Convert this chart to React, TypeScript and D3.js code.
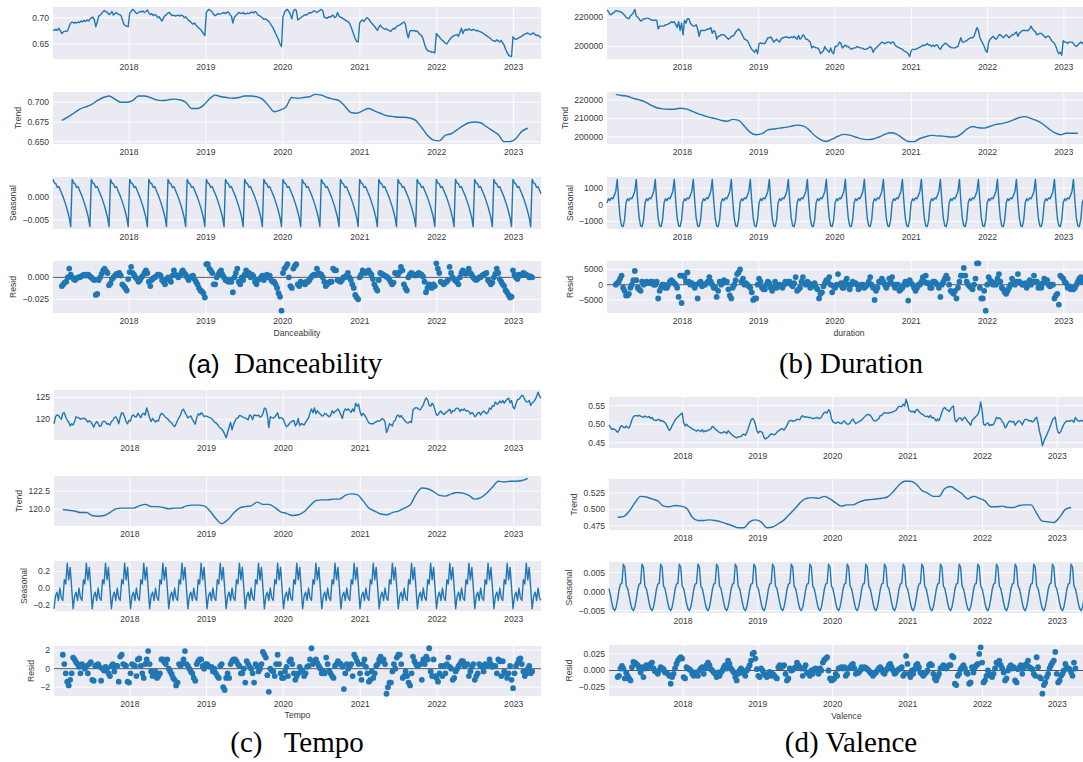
import React from "react";
import * as d3 from "d3";

// ---------------- data (weekly series) ----------------
const START = new Date(2017, 0, 5);
const PERIOD = 13; // seasonal period (weeks)
const TREND_START = 6; // first week with a trend value
const TREND_STEP = 4; // trend values below are every 4th week
const RESID_START = 6;
const YEAR_TICKS = ["2018", "2019", "2020", "2021", "2022", "2023"];

// Danceability (units 0.001; seasonal units 0.0001)
const DANCE_OBS = [
  677,676,678,676,680,675,670,673,674,674, 676,684,690,692,690,691,690,692,691,694,
  692,695,693,696,694,697,700,701,697,683, 692,703,705,708,712,714,711,710,706,708,
  712,705,708,710,707,706,705,697,688,685, 684,683,708,712,716,714,710,708,710,712,
  711,713,710,712,715,709,706,708,704,706, 705,700,702,697,694,700,704,706,709,710,
  706,704,705,703,704,705,703,705,704,700, 702,698,695,693,690,688,690,686,683,680,
  678,674,670,666,710,714,716,713,711,706, 704,706,708,707,708,709,710,708,710,711,
  706,703,690,701,704,707,710,709,708,710, 707,708,709,708,710,711,709,712,710,705,
  704,702,700,697,698,696,694,691,686,682, 676,670,664,658,650,645,702,710,714,716,
  712,706,698,712,716,714,696,698,700,702, 704,706,705,708,710,709,711,713,712,710,
  712,714,716,713,701,700,699,702,701,703, 705,700,702,710,703,701,700,698,696,694,
  693,690,684,676,668,660,655,654,690,694, 696,693,697,700,698,694,690,687,684,680,
  676,682,686,682,680,678,679,677,676,674, 677,680,679,683,685,686,688,690,692,688,
  672,662,674,676,675,676,674,675,671,668, 666,660,650,642,638,636,636,634,635,633,
  670,666,664,660,657,655,652,650,654,658, 662,664,666,667,668,665,672,680,670,676,
  678,676,679,677,676,678,677,675,676,674, 673,672,670,668,666,664,662,660,657,656,
  655,658,656,654,657,652,648,640,634,629, 627,626,664,660,659,660,662,663,665,667,
  669,670,671,669,668,670,671,668,666,667, 664,662,
];
const DANCE_TREND = [
  677,681,686,691,694,697,702,706,708,704, 700,700,702,708,708,706,703,702,703,704,
  703,700,692,692,696,704,709,707,706,705, 706,708,708,707,704,696,688,690,694,706,
  705,706,707,710,709,706,704,702,695,687, 686,689,692,689,686,683,682,681,681,680,
  677,668,658,652,651,658,660,665,670,674, 675,674,669,664,659,650,650,654,663,667,
];
const DANCE_SEAS = [40,32,30,22,24,16,8,0,-10,-20,-32,-45,-65];
const DANCE_RESID = [
  -10,-8,-6,-5,0,10,3,0,-2,-3, -1,0,0,1,2,3,2,3,3,1, 0,-2,-3,-20,-19,-3,0,4,8,10,
  7,5,-9,-7,-2,0,2,4,3,5, 2,-8,-10,-12,-15,-2,6,12,5,3, 0,-2,-5,-3,0,2,5,8,5,-5,
  -10,-3,-1,0,1,3,3,2,-3,-5, -8,-2,0,-3,-5,2,8,3,2,0, 2,5,8,5,3,0,-3,0,1,2,
  -2,-5,-8,-12,-15,-16,-18,-23,15,15, 10,8,5,-8,-8,0,3,6,8,3, 0,-3,-4,-5,-3,-5,-17,0,5,10,
  -5,-8,0,-3,3,8,3,5,0,3, 1,-5,-8,-3,-2,0,2,-3,0,3, 0,2,-3,-5,-5,-8,-12,-18,-22,-38,
  5,10,12,15,0,-10,-12,10,13,15, -8,-10,-5,-6,-7,-8,-5,-5,-3,0, 2,3,3,10,5,4,3,0,-5,-10,
  -8,-6,-5,-5,10,8,8,-3,-4,-5, -3,0,0,2,5,0,-3,-8,-12,-20,-23,-25,
  0,3,8,6,5,6,8,5,3,-2, -8,-12,-15,-3,5,4,3,2,1,0, -2,-5,-8,-6,5,4,3,6,12,8,
  -8,-12,-15,0,3,5,4,3,2,3, 5,4,3,1,-5,-17,-12,-8,-10,-12,-8,-10,
  16,10,5,-5,-6,-8,-6,-5,-3,12, 5,0,-2,-4,-5,-8,0,5,8,5, 4,5,10,5,3,0,-2,-3,-2,0,
  0,2,3,4,5,-3,-5,-8,-6,0, 4,10,5,-2,-5,-8,-10,-15,-17,-20,-23,-22,
  8,3,0,-2,3,2,3,5,4,3,2,0,1,0,
];

// Duration (units 1000 ms; seasonal units 1)
const DUR_OBS = [
  225,224,222,222,223,223.5,224.5,224.5,224,224, 223.5,222.5,221.5,220,219.5,219,221,222,223,225.5,
  221,220,219,217.5,218,219,219,219.5,219.5,219, 218.5,218,218,218,218,212,214,214,214,214,
  215,215,215.5,216,217,216.5,217,215,213,217, 211,216,208,218,216,219,219,216,215,214,
  214,215,212,207,211,211,211,211,211.5,212, 212,213,209,211,210,205,207,207,208,208,
  208,207,206,205,205.5,207,207,208,210,211, 212,211,209,207,205,204.5,204,202,200,198,
  197,196,198,195,202,202.5,202,202,202,204, 206,206,206.5,205,203,204,205,204,203,205,
  206,206,206.5,206.5,206,206,206.5,206,207,206, 205,207.5,205,206,208,207,205,205,204,203,
  199,200,199.5,199,199,198,195,196,197,200, 198,197,196,199,196,195,200,200,201,203,
  202,199,200,201,200,200,199,198,198.5,199, 199,200,199.5,199,199,198.5,198,198,198.5,199,
  200,199,196,198,199,200,201,202,203,202.5, 202,202.5,203,203,202,203,203,201,200,199.5,
  199,198.5,198,197,196.5,196,195,193,197,198, 198,198,198.5,199,199.5,200,201,200.5,201,202,
  201,201,200,201,200,201,201,199,198,200, 201,202,202,201,200,199.5,199,199,199,199.5,
  200,203,206,203,203,203.5,204,205,205.5,206, 206,207,210,213,211,206,204,202,200,197,
  196,203,205,206,207,206,205,206,208,208, 207,206,207,208,207,206,207,208,208,209,
  210,207,209,210,211,211,211,211,211,212, 214,212,211,210,208,208.5,209,209,208,207,
  206,207,207,206,204,203,202,200,197,195, 196,194,204,203,203,202,203,203,203,202,
  200.5,200,201,202,203,202,203,203,202,203, 202,203,
];
const DUR_TREND = [
  223,222.4,222,220.8,220,219,217.2,215.8,215.2,215, 215,215.5,215.2,214,212.6,211.6,210.6,209.9,209,208.5,
  209.5,209,205.8,202.5,201.2,201.8,203.8,204.3,204.8,205.2, 205.8,206.4,206,204,200.8,198.6,197.6,198.8,200.4,201.4,
  201,200,199,198.6,198.9,200,201.4,202.3,201.6,199.4, 197.6,197.5,199.2,200.2,200.9,200.6,200.5,200,200,201.4,
  204.2,205.7,205,204.8,205.8,206.8,207.2,208,209.2,210.5, 211,210,208.8,207,204.5,202.4,201.2,202,202,202,
];
const DUR_SEAS = [100,350,250,400,350,550,800,1500,200,-800,-1250,-1300,-900];
const DUR_RESID = [
  0,0.5,1,2,3,-1,-2,-3.5,-3.5,-3, -1,0,1.5,4.5,1.5,-1,-1.5,-2,1,0, 0.5,1,0.5,0.5,1,1,0,0,1,-4.5,
  -2,-1,0,0,-1,-1,0,1,1.5,1, 0.5,0,-1,-4,3,-6,3,2.5,1,4, 1,0,0.5,0,-1,0,-4.5,0.5,1,-0.5,
  0,0,0.5,1,2.5,1,0,-1,-1,-4, -2,1,0,0.5,1.5,1,1,-1.5,-3.5,-4.5, -1,0,1.5,3.5,4,5,1,2,0,0.5,
  0,-0.5,-1,-2.5,-5,-4.5,-4.5,0,2,1, -1,-1.5,-1.5,0,1,0.5,-1,-2,-1,1, -1,-0.5,0,-0.5,-1,0,1,0.5,1,1,
  0,-0.5,0.5,2.5,-2,-1.5,-1,1,2.5,0.5, 0,1,0.5,-1,0,0,0.5,-1,-1.5,-4.5, -3,-2.5,-0.5,0.5,1.5,1,2.5,0,-2.5,-0.5,
  -1,0,3.5,0,0.5,-1,-1,1,2,0, -1.5,0,1,0.5,0.5,0,-1.5,-1,0,0, -1,-0.5,0,1,2.5,0,-1,-5,-2,-1,
  1,1,2,1,0,-1,0,2,1,2.5, 0,-1,0,0,-2,-1.5,-1,0,1,0, -5.2,1.5,0.5,0,-1,-2,-1,0,0,1,
  2.5,1,3,0.5,0.5,-1,-1,1,1,0.5, 0,-1,-4,0,1,2,3,2,0,-2, -2.5,-3,-2,-4.5,-1,1,3,3,5.5,3,
  1,0,-0.5,-1,-1.5,0,2,7,7,-1, -4.5,-4.5,-2,-8.5,0,2.5,1.5,1,0,0.5, 0,2,3.5,1,-1,-1.5,-2.5,-3,-2,-1,
  0,2,1,0,1,3.5,1,0.5,0,0, 0.5,-1,0,1.5,0,1,3,1,1,-1, 0,-1,0.5,2,1,1.5,0,-0.5,0,0,
  -4.5,-3.5,-3,-6.5,3,2.5,2,1,0.5,-1, -0.5,-1.5,-1,-1.5,-1,0,1,2,2.5,1,
];

// Tempo (units 1 BPM)
const TEMPO_OBS = [
  119.0,120.6,121.0,120.9,120.4,120.0,121.4,121.5,120.5,119.8, 119.4,118.5,119.0,118.7,119.5,120.6,120.4,120.3,120.0,120.2,
  120.2,120.2,119.8,119.4,119.7,119.4,118.9,118.2,119.0,119.5, 119.1,118.4,118.5,119.4,119.6,119.4,118.9,119.0,118.7,119.5,
  119.8,120.4,120.6,120.0,119.0,120.5,121.5,121.4,120.5,119.5, 119.0,119.8,119.6,120.8,121.0,120.6,120.6,121.4,120.9,120.4,
  121.2,121.4,121.0,122.6,121.6,120.3,119.5,120.2,119.8,119.4, 119.8,119.6,120.8,121.4,121.2,120.8,120.4,120.2,119.8,119.4,
  119.2,118.6,118.3,119.0,119.8,120.4,121.0,122.0,122.3,121.6, 121.0,120.3,120.6,120.8,120.0,119.5,118.9,120.4,121.3,121.0,
  121.5,121.2,120.6,120.8,120.7,120.5,120.4,120.2,119.9,119.4, 119.2,118.9,118.4,118.0,117.8,117.3,116.6,115.8,117.0,118.2,
  119.3,117.6,118.8,119.6,120.2,120.3,120.9,120.8,120.6,120.4, 120.3,120.1,119.9,121.0,120.8,119.9,121.0,120.9,120.8,121.0,
  120.5,120.7,121.3,122.6,122.4,121.0,118.1,120.6,120.4,120.3, 120.5,121.0,121.5,120.2,120.4,120.3,119.9,119.0,118.3,118.6,
  119.0,119.4,119.6,119.8,118.5,119.0,120.2,118.6,119.0,118.9, 118.7,119.3,119.9,120.3,121.5,122.4,121.5,122.6,121.3,122.0,
  121.5,121.2,120.8,120.8,121.4,121.2,120.9,120.6,120.9,122.0, 121.4,121.8,122.0,122.4,121.8,121.0,120.2,121.8,122.4,122.1,
  122.4,122.0,121.6,122.4,121.8,123.7,123.0,123.5,121.8,120.8, 121.4,121.0,120.5,119.8,119.2,119.0,119.0,119.0,119.3,119.4,
  119.7,119.6,119.8,120.2,120.0,119.4,117.0,117.8,119.0,118.8, 118.5,119.6,119.8,120.8,121.0,120.5,120.9,120.3,119.9,119.5,
  119.2,119.2,119.5,119.3,122.2,122.5,122.7,122.6,122.3,122.2, 122.8,123.3,124.3,124.9,124.4,123.2,123.0,123.7,123.2,122.0,
  121.0,121.0,121.6,121.9,121.4,121.1,121.5,121.7,122.0,122.3, 121.4,122.0,121.9,122.4,122.6,122.4,121.8,122.3,122.1,122.4,
  121.9,122.0,121.8,121.2,121.6,121.3,120.6,120.9,121.5,121.6, 121.0,121.6,121.9,121.6,121.3,121.6,122.6,122.3,123.1,123.0,
  124.0,123.5,123.6,124.2,123.8,124.3,123.7,124.2,124.6,124.9, 123.8,124.3,122.8,122.4,123.6,124.5,124.6,125.0,125.5,125.3,
  124.5,124.0,124.0,124.3,123.2,123.8,124.0,124.5,125.2,126.2, 125.3,124.8,
];
const TEMPO_TREND = [
  120.0,119.9,119.8,119.6,119.6,119.2,119.1,119.2,119.6,120.1, 120.2,120.2,120.2,120.5,120.7,120.4,120.4,120.3,120.1,120.2,
  120.2,120.5,120.6,120.6,120.5,119.8,118.8,118.1,118.6,119.5, 120.2,120.4,120.5,121.0,120.7,120.7,120.3,119.7,119.5,119.2,
  119.3,119.7,120.5,121.2,121.3,121.3,121.4,121.4,121.9,122.1, 122.0,121.2,120.2,119.8,119.4,119.3,119.6,119.8,120.2,120.6,
  122.0,122.9,122.8,122.4,121.9,121.8,122.1,122.3,122.2,121.9, 121.4,121.6,122.2,123.0,123.8,123.7,123.8,123.8,123.9,124.2,
];
const TEMPO_SEAS = [-0.25,-0.1,-0.05,-0.15,0.0,-0.12,-0.15,0.1,0.05,0.3,0.1,0.25,0.0];
const TEMPO_RESID = [
  1.5,0.5,-0.5,-1.4,-1.8,-1.2,-0.5,1.2,1.0,0.7, 0.5,0.2,-0.5,0.5,0.2,0,0.3,-0.5,0.5,0.7,
  -1.2,-1.3,0.3,0.4,0.5,0.2,-1.3,0,-0.2,0.2, 0,-0.5,-0.8,0.3,0.5,-0.3,0.3,0.3,-1.4,1.3,
  1.5,0.5,0.4,0.3,-1.4,-1.5,-0.5,0.5,0.4,0.3, -0.8,1.0,1.1,0.3,-0.5,-1.0,0.5,1.0,1.9,0.5,
  -0.3,-0.8,-0.5,-0.3,-1.0,-0.8,-0.5,1.0,1.0,0.7, 0.5,1.0,0,-0.3,-0.6,-1.0,-1.2,-1.8,-1.5,0.5,
  0.3,0.5,1.0,1.9,0.5,0.3,0,-0.3,-0.5,-1.0, -1.3,0.5,0.8,1.0,1.0,0.3,0,0.5,0.5,0.3,
  0.2,0.2,-0.3,0,-0.5,-0.8,-1.0,0.3,0.5,-2.0, -2.3,-1.0,-0.5,-1.0,0.5,0.8,1.0,1.0,0.8,0.5,
  0.3,-0.5,-0.5,0,-1.5,0.8,0.5,0.2,0,-0.5, -1.5,0.5,0.3,-0.3,0,0.5,1.8,1.5,1.2,-0.7,
  -2.5,0,-0.2,-0.3,-0.8,0.5,1.5,0.5,-0.5,-1.0, -1.0,-0.3,0.2,-0.8,0.8,1.0,0.5,-0.5,-1.2,-0.8,
  -0.5,0.2,-0.1,-0.3,-0.8,-0.5,0.2,0.3,1.0,2.2, 0.5,0.8,1.0,0.6,0.3,0,-0.5,-0.3,-0.5,1.2,
  0.5,-0.2,-0.5,-0.8,-1.0,0.3,0.5,0.8,0.6,0.5, 0.2,-2.2,-0.5,0.5,0,0.3,0.5,-0.8,1.5,1.2,
  0.8,0.5,-0.5,-1.2,0.5,1.0,0.2,-0.5,-1.4,-1.2, -0.3,-1.0,-0.5,0.3,0.5,1.0,1.3,0.8,1.0,0.5,
  -2.7,-2.0,-1.5,-1.5,-0.3,0.5,0,1.2,1.5,1.5, 0.5,-1.0,-0.8,-0.3,-0.8,-1.5,-1.8,-0.5,1.3,0.8,
  0.5,0.3,0.4,0.5,-1.2,1.0,0.5,1.3,1.0,2.2, -0.3,-0.8,1.0,-0.8,-1.0,-1.4,-0.5,0.3,-0.8,0.3,
  -0.5,0.5,1.2,0.2,0,-1.2,-1.0,-0.3,0,0.3, 0.5,0.8,0.8,0.3,0.4,0.5,-0.8,-0.3,0.2,0.5,
  -1.2,-0.8,-0.5,0.5,0.3,0.2,-0.3,0.5,0.3,0.4, 1.0,0.5,0.2,0.3,0.3,-0.5,1.0,0.8,-0.8,0.8,
  -0.3,-0.5,-1.0,-0.5,0.3,-1.2,-2.1,-0.5,0.3,0.6, 1.0,1.1,0.5,-0.3,-0.8,-0.5,0,0.3,-0.5,-0.3,
];

// Valence (units 0.001; seasonal units 0.0001)
const VAL_OBS = [
  498,491,486,487,486,482,478,484,493,496, 492,490,495,491,490,500,512,520,523,523,
  522,524,522,520,518,522,520,518,521,515, 518,512,511,510,512,513,508,510,507,504,
  499,490,483,487,497,503,511,515,520,523, 527,530,505,495,500,495,493,490,487,485,
  483,481,484,483,480,485,479,482,481,484, 485,487,494,492,487,484,480,478,476,477,
  479,479,475,482,478,474,470,467,465,463, 466,466,467,471,473,470,477,488,500,511,
  515,511,500,483,476,481,480,476,464,460, 463,465,470,474,473,471,473,478,482,484,
  488,487,484,490,496,506,510,510,508,509, 510,513,513,512,520,523,519,520,519,518,
  518,517,515,516,517,518,516,515,519,526, 532,532,530,539,535,515,507,504,502,505,
  505,502,502,506,509,503,500,500,503,510, 514,506,501,504,506,509,511,515,519,523,
  526,526,524,519,512,509,509,512,515,523, 523,528,531,530,530,530,531,532,534,535,
  537,543,548,548,547,554,549,567,555,538, 535,533,535,531,538,540,534,530,527,525,
  522,520,522,518,524,517,518,514,508,514, 510,520,533,542,545,540,538,534,540,546,
  549,512,506,512,517,517,510,515,519,513, 507,503,497,510,514,518,522,526,536,560,
  538,500,497,501,504,496,499,497,500,508, 519,515,517,514,507,502,490,494,503,508,
  508,505,508,497,503,508,509,504,498,508, 513,513,511,508,510,506,508,515,519,502,
  480,466,442,453,463,470,480,489,500,510, 516,519,492,477,476,482,492,500,505,509,
  508,508,510,510,505,518,512,509,508,510, 508,510,
];
const VAL_TREND = [
  488,489,497,510,520,519,516,513,505,504, 506,505,502,488,483,483,484,483,481,478,
  475,472,472,481,484,481,472,473,478,484, 493,502,512,517,518,517,520,516,510,505,
  507,507,511,514,515,516,517,519,527,537, 543,543,539,529,525,520,520,532,535,530,
  524,516,520,517,513,504,504,505,503,503, 506,507,507,494,482,481,480,488,500,503,
];
const VAL_SEAS = [8,-10,-30,-45,-50,-40,-20,5,20,22,72,65,15];
const VAL_RESID = [
  -10,-8,3,7,3,-12,-3,-8,-12,-15, 5,13,12,10,8,3,-3,5,-10,3, 8,5,6,10,12,3,-1,-2,-5,0,
  5,3,2,-3,-3,-5,-8,-20,-10,-5, 3,10,15,18,20,18,-10,-12,5,3, 2,0,-5,-8,-3,-6,-8,0,3,5,
  -5,3,8,12,8,2,0,-3,-5,-10, -3,-8,-3,0,5,8,3,15,10,3, 0,-3,-10,-15,-5,0,3,0,-5,-8,
  0,3,8,15,25,27,18,2,-8,-10, 3,0,-5,-7,-10,-5,-2,-8,-5,-7, -10,-12,5,8,5,6,8,-5,-15,-12,
  3,0,1,3,5,12,8,5,3,-8, 3,8,-3,-5,-8,0,-5,2,3,0, -5,3,0,12,16,18,20,0,-12,-15,
  -14,-12,-5,-8,3,4,5,3,5,-8, -5,3,5,8,10,3,-5,-4,-3,0, 5,3,5,4,2,0,-3,-5,-8,-5,
  -3,0,3,5,2,-3,-5,0,3,8, 10,5,0,-5,-3,0,2,3,5,-8, -5,22,10,-5,-10,0,-5,2,8,10,
  5,-3,-5,-8,-5,-3,0,8,10,8, -5,-12,-15,-10,-5,3,5,8,5,3, 6,8,8,22,20,-20,-22,-8,-5,2,
  5,8,3,-3,-5,-20,-18,5,-3,5, 8,10,25,35,12,-18,-15,-8,0,-5, -8,-10,-5,3,12,10,15,8,3,-3,
  -15,-12,0,5,8,3,5,-15,-18,2, 5,8,-5,3,8,10,15,5,3,2, -5,-8,20,5,-10,-12,-35,-22,-18,-10,
  -5,3,8,12,15,28,-5,-18,-15,-8, -5,0,10,5,3,2,-3,-8,12,3,
];

// tick labels (y) for observed, trend, seasonal, resid
const DANCE_TICKS = [["0.65", "0.70"], ["0.650", "0.675", "0.700"], ["-0.005", "0.000"], ["-0.025", "0.000"]];
const DUR_TICKS = [["200000", "220000"], ["200000", "210000", "220000"], ["-1000", "0", "1000"], ["-5000", "0", "5000"]];
const TEMPO_TICKS = [["120", "125"], ["120.0", "122.5"], ["-0.2", "0.0", "0.2"], ["-2", "0", "2"]];
const VAL_TICKS = [["0.45", "0.50", "0.55"], ["0.475", "0.500", "0.525"], ["-0.005", "0.000", "0.005"], ["-0.025", "0.000", "0.025"]];

const ROW_LABELS = ["", "Trend", "Seasonal", "Resid"];

// ---------------- layout / style ----------------
const W = 1083;
const H = 762;
const BG = "#eaeaf2";
const BLUE = "#1f77b4";
const TXT = "#3a3a3a";
const TICK_FS = 8.6;
const SANS = "'Liberation Sans', Arial, sans-serif";
const SERIF = "'Liberation Serif', 'Times New Roman', serif";

type Pt = { d: Date; v: number };
const weekDate = (i: number) => new Date(START.getFullYear(), START.getMonth(), START.getDate() + 7 * i);

function series(vals: number[], unit: number, start: number, step: number): Pt[] {
  return vals.map((v, k) => ({ d: weekDate(start + k * step), v: v * unit }));
}
function seasonal(pattern: number[], unit: number, n: number): Pt[] {
  return d3.range(n).map((i) => ({ d: weekDate(i), v: pattern[i % PERIOD] * unit }));
}

function labelWidth(s: string, fs: number) {
  let w = 0;
  for (const c of s) w += c === "." ? 0.278 : c === "\u2212" ? 0.584 : 0.556;
  return w * fs;
}
const fmt = (s: string) => s.replace("-", "\u2212");

interface PanelSpec {
  obs: number[]; obsUnit: number;
  trend: number[]; seas: number[]; seasUnit: number;
  resid: number[]; residUnit: number;
  ticks: string[][]; xlabel: string;
  capTag: string; capText: string; capX: number; capY: number; capSansTag: boolean;
  xL: number; xR: number; tops: number[]; h: number; xlabelY: number;
}

const PANELS: PanelSpec[] = [
  {
    obs: DANCE_OBS, obsUnit: 0.001, trend: DANCE_TREND, seas: DANCE_SEAS, seasUnit: 0.0001,
    resid: DANCE_RESID, residUnit: 0.001, ticks: DANCE_TICKS, xlabel: "Danceability",
    capTag: "(a)", capText: "  Danceability", capX: 285, capY: 373, capSansTag: true,
    xL: 53, xR: 541, tops: [7, 92, 177, 261], h: 52, xlabelY: 333,
  },
  {
    obs: DUR_OBS, obsUnit: 1000, trend: DUR_TREND, seas: DUR_SEAS, seasUnit: 1,
    resid: DUR_RESID, residUnit: 1000, ticks: DUR_TICKS, xlabel: "duration",
    capTag: "(b)", capText: " Duration", capX: 851, capY: 373, capSansTag: false,
    xL: 607, xR: 1091, tops: [7, 92, 177, 261], h: 52, xlabelY: 333,
  },
  {
    obs: TEMPO_OBS, obsUnit: 1, trend: TEMPO_TREND, seas: TEMPO_SEAS, seasUnit: 1,
    resid: TEMPO_RESID, residUnit: 1, ticks: TEMPO_TICKS, xlabel: "Tempo",
    capTag: "(c)", capText: "   Tempo", capX: 297, capY: 752, capSansTag: false,
    xL: 54, xR: 541, tops: [390, 476, 561, 646], h: 50, xlabelY: 715,
  },
  {
    obs: VAL_OBS, obsUnit: 0.001, trend: VAL_TREND, seas: VAL_SEAS, seasUnit: 0.0001,
    resid: VAL_RESID, residUnit: 0.001, ticks: VAL_TICKS, xlabel: "Valence",
    capTag: "(d)", capText: " Valence", capX: 851, capY: 752, capSansTag: false,
    xL: 609, xR: 1084, tops: [397, 479, 562, 645], h: 51, xlabelY: 716,
  },
];

function Sub({ pts, mode, smooth, x, top, h, ticks, ylabel, xL, xR, zero }: any) {
  const ext = d3.extent(pts, (p: Pt) => p.v) as [number, number];
  const pad = (ext[1] - ext[0]) * 0.05;
  const y = d3.scaleLinear().domain([ext[0] - pad, ext[1] + pad]).range([top + h, top]);
  const years = YEAR_TICKS.map((s) => new Date(+s, 0, 1));
  const line = d3
    .line<Pt>()
    .x((p) => x(p.d))
    .y((p) => y(p.v))
    .curve(smooth ? d3.curveMonotoneX : d3.curveLinear);
  const maxW = d3.max(ticks as string[], (t: string) => labelWidth(fmt(t), TICK_FS)) || 0;
  const ylx = xL - 4 - maxW - 6;
  return (
    <g>
      <rect x={xL} y={top} width={xR - xL} height={h} fill={BG} />
      {years.map((d, i) => (
        <line key={"gx" + i} x1={x(d)} x2={x(d)} y1={top} y2={top + h} stroke="#fff" strokeWidth={0.9} />
      ))}
      {(ticks as string[]).map((t, i) => (
        <line key={"gy" + i} x1={xL} x2={xR} y1={y(+t)} y2={y(+t)} stroke="#fff" strokeWidth={0.9} />
      ))}
      {zero && <line x1={xL} x2={xR} y1={y(0)} y2={y(0)} stroke="#555" strokeWidth={1} />}
      {mode === "line" ? (
        <path d={line(pts) || ""} fill="none" stroke={BLUE} strokeWidth={1.4} strokeLinejoin="round" />
      ) : (
        pts.map((p: Pt, i: number) => <circle key={i} cx={x(p.d)} cy={y(p.v)} r={2.9} fill={BLUE} />)
      )}
      {(ticks as string[]).map((t, i) => (
        <text key={"ty" + i} x={xL - 4} y={y(+t)} dy="0.34em" textAnchor="end" fontSize={TICK_FS} fill={TXT} fontFamily={SANS}>
          {fmt(t)}
        </text>
      ))}
      {years.map((d, i) => (
        <text key={"tx" + i} x={x(d)} y={top + h + 10.5} textAnchor="middle" fontSize={TICK_FS} fill={TXT} fontFamily={SANS}>
          {YEAR_TICKS[i]}
        </text>
      ))}
      {ylabel && (
        <text
          transform={`translate(${ylx},${top + h / 2}) rotate(-90)`}
          textAnchor="middle"
          fontSize={TICK_FS}
          fill={TXT}
          fontFamily={SANS}
        >
          {ylabel}
        </text>
      )}
    </g>
  );
}

function Panel({ p }: { p: PanelSpec }) {
  const n = p.obs.length;
  const x = d3.scaleTime().domain([weekDate(0), weekDate(n - 1)]).range([p.xL, p.xR]);
  const rows = [
    { pts: series(p.obs, p.obsUnit, 0, 1), mode: "line", smooth: false },
    { pts: series(p.trend, p.obsUnit, TREND_START, TREND_STEP), mode: "line", smooth: true },
    { pts: seasonal(p.seas, p.seasUnit, n), mode: "line", smooth: false },
    { pts: series(p.resid, p.residUnit, RESID_START, 1), mode: "dots", smooth: false, zero: true },
  ];
  return (
    <g>
      {rows.map((r, k) => (
        <Sub
          key={k}
          {...r}
          x={x}
          top={p.tops[k]}
          h={p.h}
          ticks={p.ticks[k]}
          ylabel={ROW_LABELS[k]}
          xL={p.xL}
          xR={p.xR}
        />
      ))}
      <text x={(p.xL + p.xR) / 2} y={p.xlabelY} dy="0.34em" textAnchor="middle" fontSize={TICK_FS} fill={TXT} fontFamily={SANS}>
        {p.xlabel}
      </text>
      <text x={p.capX} y={p.capY} textAnchor="middle" fontSize={29} fill="#000" fontFamily={SERIF} style={{ whiteSpace: "pre" }}>
        <tspan fontFamily={p.capSansTag ? SANS : SERIF} fontSize={p.capSansTag ? 26 : 29}>
          {p.capTag}
        </tspan>
        <tspan>{p.capText}</tspan>
      </text>
    </g>
  );
}

export default function App() {
  return (
    <svg
      width={W}
      height={H}
      viewBox={`0 0 ${W} ${H}`}
      style={{ position: "absolute", left: 0, top: 0, background: "#fff" }}
    >
      <rect width={W} height={H} fill="#fff" />
      {PANELS.map((p, i) => (
        <Panel key={i} p={p} />
      ))}
    </svg>
  );
}
